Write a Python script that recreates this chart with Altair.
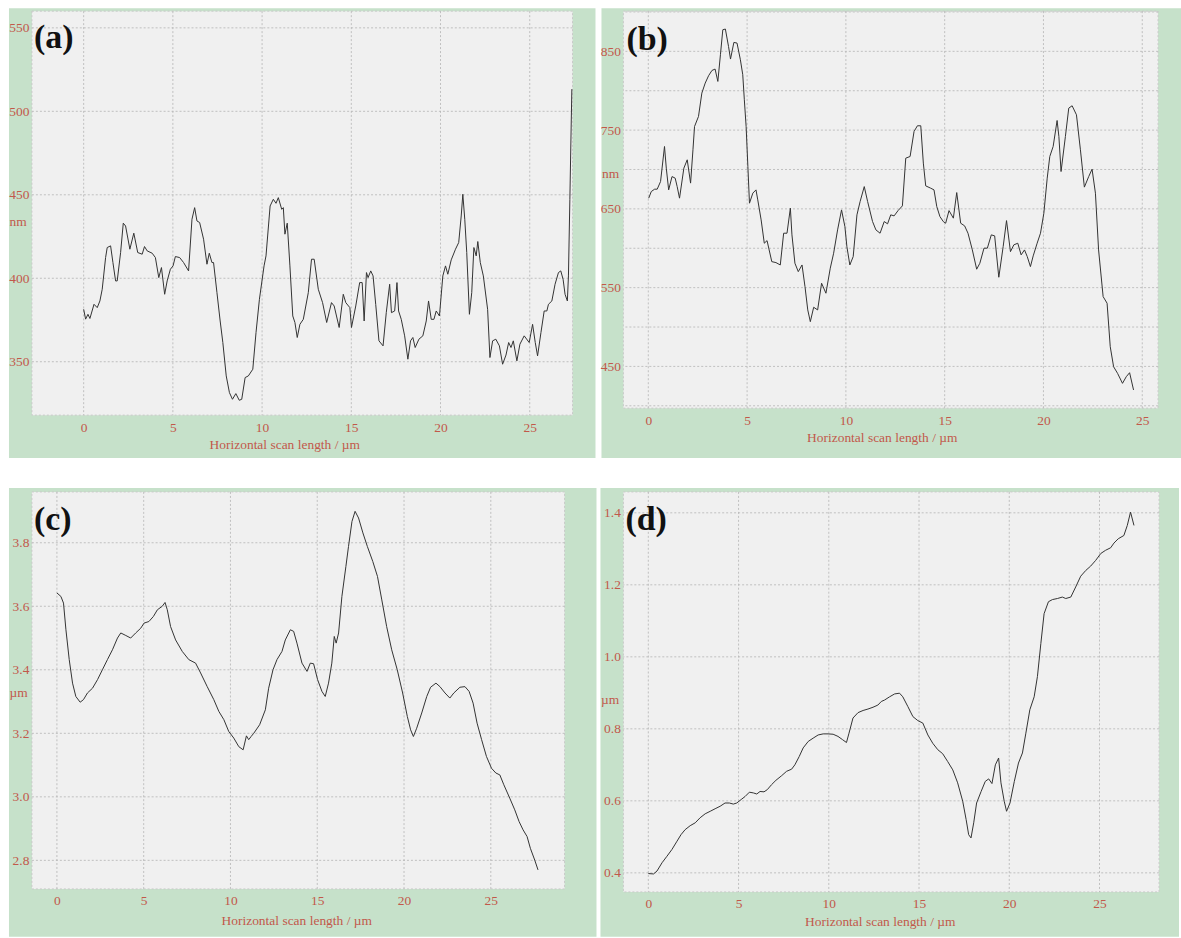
import altair as alt
import pandas as pd

# ---------------- profile data (x in µm) ----------------
a_x = [0.0, 0.11, 0.24, 0.35, 0.58, 0.76, 0.91, 1.04, 1.23, 1.32,
       1.51, 1.64, 1.79, 1.88, 2.07, 2.22, 2.35, 2.59, 2.81, 3.03,
       3.28, 3.41, 3.56, 3.84, 4.02, 4.21, 4.36, 4.54, 4.68, 4.86,
       5.01, 5.14, 5.38, 5.6, 5.88, 6.07, 6.22, 6.35, 6.5, 6.72,
       6.91, 7.04, 7.19, 7.28, 7.47, 7.65, 7.8, 7.99, 8.17, 8.34,
       8.53, 8.72, 8.86, 9.05, 9.23, 9.48, 9.66, 9.85, 10.11, 10.22,
       10.45, 10.63, 10.78, 10.91, 11.1, 11.19, 11.28, 11.41, 11.56, 11.72,
       11.84, 11.97, 12.12, 12.31, 12.59, 12.77, 12.92, 13.15, 13.39, 13.62,
       13.89, 14.04, 14.32, 14.55, 14.69, 14.92, 15.01, 15.25, 15.47, 15.61,
       15.72, 15.85, 15.94, 16.09, 16.22, 16.37, 16.55, 16.78, 16.96, 17.15,
       17.25, 17.43, 17.56, 17.65, 17.8, 17.99, 18.17, 18.32, 18.45, 18.58,
       18.79, 19.01, 19.2, 19.33, 19.48, 19.63, 19.76, 19.94, 20.13, 20.28,
       20.41, 20.6, 20.84, 21.02, 21.16, 21.25, 21.36, 21.47, 21.62, 21.75,
       21.87, 22.0, 22.09, 22.23, 22.4, 22.64, 22.77, 22.92, 23.1, 23.3,
       23.48, 23.67, 23.82, 23.95, 24.08, 24.28, 24.45, 24.69, 24.97, 25.16,
       25.31, 25.44, 25.63, 25.81, 25.96, 26.05, 26.24, 26.42, 26.61, 26.74,
       26.87, 26.98, 27.11, 27.17, 27.25, 27.36]
a_nm = [381.4, 375.5, 378.4, 375.9, 384.4, 382.4, 386.4, 393.4, 412.4, 418.4,
        419.4, 409.4, 398.4, 398.4, 415.4, 433.0, 431.3, 417.4, 427.0, 415.4,
        414.4, 419.0, 416.4, 415.0, 412.4, 400.4, 406.4, 390.4, 398.4, 405.4,
        407.4, 413.0, 412.4, 409.4, 404.4, 435.3, 442.3, 434.3, 433.4, 423.4,
        408.4, 415.0, 409.4, 409.4, 391.4, 374.4, 361.5, 341.5, 331.5, 327.5,
        330.9, 326.9, 327.5, 340.5, 341.5, 345.5, 367.5, 387.4, 407.4, 413.4,
        443.3, 447.3, 444.9, 448.3, 441.3, 442.3, 426.4, 433.0, 407.4, 377.4,
        373.5, 364.5, 372.4, 375.4, 391.4, 411.4, 411.4, 393.4, 385.4, 373.5,
        385.4, 383.4, 370.5, 390.4, 385.4, 382.4, 370.5, 383.4, 397.4, 397.4,
        374.4, 403.4, 400.4, 404.4, 401.4, 384.2, 362.5, 359.5, 379.4, 396.4,
        379.4, 380.4, 397.4, 380.4, 375.4, 365.5, 351.5, 362.5, 364.5, 358.5,
        363.5, 365.5, 374.4, 386.4, 375.4, 375.4, 380.4, 377.4, 401.4, 407.4,
        402.4, 411.0, 417.4, 421.4, 437.3, 450.3, 435.3, 415.4, 378.4, 391.4,
        418.4, 413.4, 422.0, 409.4, 401.4, 381.4, 352.5, 362.5, 363.5, 359.5,
        348.5, 354.0, 361.5, 358.5, 362.5, 350.5, 360.5, 365.5, 361.5, 372.4,
        361.5, 353.5, 367.5, 380.4, 380.4, 384.4, 386.4, 396.4, 403.4, 404.4,
        399.4, 390.4, 386.4, 401.4, 447.3, 513.3]

b_x = [0.02, 0.15, 0.32, 0.45, 0.62, 0.82, 0.91, 1.03, 1.2, 1.36,
       1.46, 1.58, 1.8, 1.97, 2.14, 2.26, 2.34, 2.54, 2.71, 2.88,
       3.05, 3.22, 3.38, 3.52, 3.65, 3.77, 3.9, 4.06, 4.16, 4.33,
       4.49, 4.66, 4.78, 4.86, 4.95, 5.04, 5.12, 5.29, 5.45, 5.54,
       5.71, 5.87, 6.01, 6.25, 6.46, 6.68, 6.85, 7.02, 7.19, 7.27,
       7.42, 7.59, 7.78, 7.93, 8.07, 8.2, 8.37, 8.57, 8.77, 8.99,
       9.21, 9.38, 9.58, 9.78, 9.95, 10.05, 10.2, 10.37, 10.56, 10.72,
       10.93, 11.1, 11.35, 11.52, 11.73, 11.94, 12.11, 12.27, 12.44, 12.64,
       12.86, 13.03, 13.25, 13.45, 13.62, 13.79, 13.92, 14.04, 14.29, 14.46,
       14.6, 14.76, 14.93, 15.05, 15.22, 15.44, 15.61, 15.81, 16.01, 16.18,
       16.4, 16.62, 16.78, 16.99, 17.16, 17.36, 17.53, 17.74, 17.96, 18.13,
       18.33, 18.5, 18.7, 18.87, 19.04, 19.18, 19.34, 19.48, 19.68, 19.85,
       20.02, 20.19, 20.32, 20.49, 20.69, 20.78, 20.89, 21.11, 21.28, 21.45,
       21.67, 21.87, 22.07, 22.29, 22.46, 22.63, 22.79, 23.02, 23.22, 23.38,
       23.55, 23.75, 24.0, 24.19, 24.36, 24.56]
b_nm = [663.6, 672.0, 675.0, 675.0, 684.7, 729.2, 701.7, 674.1, 691.0, 689.0,
        678.3, 663.6, 701.7, 712.3, 682.7, 725.0, 754.6, 767.3, 797.0, 809.7,
        819.0, 825.7, 827.5, 811.8, 845.7, 877.4, 878.3, 856.2, 840.2, 861.3,
        860.5, 839.3, 820.3, 788.5, 754.6, 703.7, 657.2, 670.0, 674.1, 661.4,
        636.0, 606.4, 609.7, 583.0, 581.8, 578.8, 619.1, 619.1, 650.9, 617.0,
        581.0, 570.3, 578.8, 551.3, 521.7, 506.8, 525.1, 521.7, 555.6, 542.9,
        574.7, 593.7, 623.3, 648.7, 627.5, 602.1, 578.8, 589.4, 642.4, 659.3,
        678.3, 659.3, 633.9, 623.3, 619.1, 633.9, 631.0, 642.4, 641.1, 647.8,
        653.8, 714.4, 716.5, 748.3, 755.5, 755.5, 708.1, 679.2, 676.3, 674.1,
        652.9, 640.2, 633.9, 631.8, 647.8, 638.2, 670.7, 631.8, 628.4, 619.1,
        597.9, 573.4, 581.0, 600.1, 600.1, 617.0, 615.7, 563.2, 602.1, 635.1,
        595.7, 604.3, 606.4, 591.6, 597.9, 589.4, 576.7, 590.3, 606.4, 619.1,
        644.5, 689.0, 716.5, 729.2, 762.2, 741.9, 697.4, 741.9, 777.9, 780.9,
        769.4, 725.0, 677.6, 691.0, 700.4, 669.9, 597.9, 538.6, 530.2, 475.0,
        449.6, 441.2, 428.5, 436.9, 442.0, 420.1]

c_x = [0.0, 0.23, 0.38, 0.52, 0.71, 0.9, 1.09, 1.34, 1.53, 1.76,
       2.05, 2.34, 2.62, 2.91, 3.2, 3.49, 3.68, 3.97, 4.25, 4.54,
       4.83, 5.02, 5.3, 5.56, 5.79, 6.07, 6.23, 6.36, 6.55, 6.84,
       7.22, 7.6, 7.99, 8.28, 8.66, 9.04, 9.33, 9.62, 9.9, 10.19,
       10.48, 10.73, 10.92, 11.05, 11.19, 11.34, 11.68, 12.01, 12.2, 12.45,
       12.68, 12.97, 13.16, 13.45, 13.64, 13.83, 14.12, 14.41, 14.6, 14.79,
       15.02, 15.27, 15.46, 15.65, 15.84, 15.98, 16.09, 16.23, 16.42, 16.65,
       16.8, 17.0, 17.18, 17.38, 17.63, 17.89, 18.2, 18.47, 18.72, 19.0,
       19.29, 19.61, 19.92, 20.19, 20.38, 20.54, 20.73, 21.02, 21.31, 21.53,
       21.84, 22.07, 22.36, 22.64, 22.87, 23.22, 23.51, 23.75, 23.98, 24.21,
       24.47, 24.75, 25.04, 25.29, 25.52, 25.75, 26.09, 26.38, 26.63, 26.86,
       27.09, 27.28, 27.53, 27.72]
c_um = [3.642, 3.631, 3.61, 3.526, 3.432, 3.358, 3.316, 3.298, 3.306, 3.327,
        3.342, 3.369, 3.4, 3.432, 3.463, 3.5, 3.516, 3.508, 3.5, 3.516,
        3.531, 3.547, 3.552, 3.568, 3.589, 3.6, 3.612, 3.589, 3.536, 3.494,
        3.458, 3.432, 3.421, 3.39, 3.347, 3.306, 3.269, 3.243, 3.206, 3.185,
        3.158, 3.148, 3.192, 3.18, 3.19, 3.2, 3.227, 3.274, 3.342, 3.4,
        3.432, 3.458, 3.494, 3.526, 3.521, 3.484, 3.421, 3.395, 3.421, 3.419,
        3.369, 3.332, 3.316, 3.358, 3.421, 3.505, 3.484, 3.516, 3.631, 3.725,
        3.788, 3.867, 3.899, 3.878, 3.831, 3.788, 3.741, 3.694, 3.62, 3.536,
        3.463, 3.4, 3.327, 3.253, 3.211, 3.19, 3.216, 3.264, 3.316, 3.345,
        3.358, 3.347, 3.327, 3.311, 3.327, 3.345, 3.347, 3.332, 3.295, 3.232,
        3.18, 3.127, 3.09, 3.075, 3.069, 3.038, 2.996, 2.959, 2.922, 2.896,
        2.875, 2.838, 2.801, 2.77]

d_x = [0.0, 0.29, 0.48, 0.76, 1.03, 1.31, 1.59, 1.81, 2.04, 2.32,
       2.6, 2.87, 3.15, 3.43, 3.7, 3.98, 4.25, 4.49, 4.71, 4.9,
       5.18, 5.36, 5.6, 5.82, 6.01, 6.19, 6.41, 6.59, 6.83, 7.07,
       7.39, 7.66, 7.94, 8.12, 8.36, 8.58, 8.86, 9.13, 9.41, 9.69,
       9.96, 10.24, 10.51, 10.76, 10.98, 11.12, 11.34, 11.62, 11.9, 12.17,
       12.45, 12.72, 12.91, 13.09, 13.37, 13.65, 13.92, 14.1, 14.38, 14.66,
       14.93, 15.21, 15.49, 15.76, 16.04, 16.31, 16.59, 16.87, 17.14, 17.42,
       17.61, 17.75, 17.88, 18.03, 18.19, 18.44, 18.67, 18.86, 19.04, 19.23,
       19.41, 19.54, 19.72, 19.85, 20.04, 20.28, 20.51, 20.73, 20.92, 21.14,
       21.38, 21.56, 21.75, 21.93, 22.17, 22.39, 22.67, 22.94, 23.13, 23.41,
       23.68, 23.96, 24.24, 24.51, 24.79, 25.07, 25.34, 25.62, 25.8, 26.04,
       26.35, 26.54, 26.72, 26.91]
d_um = [0.398, 0.397, 0.405, 0.428, 0.446, 0.465, 0.488, 0.506, 0.52, 0.531,
        0.539, 0.553, 0.564, 0.571, 0.578, 0.585, 0.594, 0.594, 0.591, 0.594,
        0.605, 0.612, 0.624, 0.622, 0.619, 0.626, 0.625, 0.631, 0.645, 0.657,
        0.67, 0.682, 0.688, 0.7, 0.723, 0.747, 0.765, 0.774, 0.783, 0.786,
        0.786, 0.785, 0.779, 0.77, 0.762, 0.788, 0.83, 0.845, 0.851, 0.855,
        0.86, 0.866, 0.876, 0.88, 0.889, 0.897, 0.899, 0.889, 0.862, 0.834,
        0.823, 0.816, 0.783, 0.76, 0.742, 0.731, 0.709, 0.686, 0.65, 0.599,
        0.548, 0.506, 0.497, 0.539, 0.594, 0.626, 0.654, 0.661, 0.648, 0.7,
        0.719, 0.65, 0.599, 0.571, 0.594, 0.654, 0.705, 0.733, 0.788, 0.853,
        0.889, 0.945, 1.037, 1.12, 1.153, 1.159, 1.162, 1.166, 1.162, 1.166,
        1.194, 1.224, 1.24, 1.252, 1.268, 1.287, 1.296, 1.303, 1.316, 1.328,
        1.337, 1.365, 1.402, 1.365]

# ---------------- tick / grid values ----------------
x_ticks = [0, 5, 10, 15, 20, 25]
a_yticks = [350, 400, 450, 500, 550]
a_ygrid = [350, 400, 450, 500, 550]
b_yticks = [450, 550, 650, 750, 850]
b_ygrid = [400, 450, 500, 550, 600, 650, 700, 750, 800, 850, 900]
c_yticks = [2.8, 3.0, 3.2, 3.4, 3.6, 3.8]
d_yticks = [0.4, 0.6, 0.8, 1.0, 1.2, 1.4]

X_TITLE = "Horizontal scan length / µm"

GREEN = "#c6e1ca"
PLOT_BG = "#f0f0f0"
RED = "#c2584a"
GRID = "#b4b4b4"
SERIF = "Liberation Serif"


def panel(xs, ys, tag, unit, xdom, ydom, w, h, ygrid, yticks, yfmt,
          frame, ytitle_xy, xtitle_xy, tag_xy):
    line_df = pd.DataFrame({"x": xs, "y": ys})
    xscale = alt.Scale(domain=xdom, nice=False, zero=False)
    yscale = alt.Scale(domain=ydom, nice=False, zero=False)
    one = alt.Data(values=[{}])

    # axes are drawn above the frame rectangles (zindex=1)
    x_axis = alt.Axis(
        values=x_ticks, grid=False, domain=False, ticks=False, zindex=1,
        labelColor=RED, labelFont=SERIF, labelFontSize=13.5,
        labelPadding=5, labelFlush=False,
        title=X_TITLE, titleColor=RED, titleFont=SERIF,
        titleFontSize=13.5, titleFontWeight="normal",
        titleX=xtitle_xy[0], titleY=xtitle_xy[1],
        titleAlign="center", titleBaseline="alphabetic")
    y_axis = alt.Axis(
        values=yticks, format=yfmt, grid=False, domain=False, ticks=False,
        zindex=1,
        labelColor=RED, labelFont=SERIF, labelFontSize=13.5,
        labelPadding=3, labelFlush=False,
        title=unit, titleColor=RED, titleFont=SERIF, titleFontSize=13.5,
        titleFontWeight="normal", titleAngle=0,
        titleX=ytitle_xy[0], titleY=ytitle_xy[1],
        titleAlign="left", titleBaseline="middle")

    # green surround and grey plotting field
    fl, fr, ft, fb = frame
    surround = alt.Chart(one).mark_rect(color=GREEN).encode(
        x=alt.value(fl), x2=alt.value(w + fr),
        y=alt.value(ft), y2=alt.value(h + fb))
    field = alt.Chart(one).mark_rect(
        fill=PLOT_BG, stroke="#c9c9c9", strokeDash=[2, 2], strokeWidth=1
    ).encode(x=alt.value(0), x2=alt.value(w), y=alt.value(0), y2=alt.value(h))

    vgrid = alt.Chart(pd.DataFrame({"x": x_ticks})).mark_rule(
        color=GRID, strokeDash=[2, 2], strokeWidth=0.8
    ).encode(x=alt.X("x:Q", scale=xscale, axis=x_axis))
    hgrid = alt.Chart(pd.DataFrame({"y": ygrid})).mark_rule(
        color=GRID, strokeDash=[2, 2], strokeWidth=0.8
    ).encode(y=alt.Y("y:Q", scale=yscale, axis=y_axis))

    profile = alt.Chart(line_df).mark_line(
        color="#333333", strokeWidth=1, interpolate="linear"
    ).encode(
        x=alt.X("x:Q", scale=xscale, axis=x_axis),
        y=alt.Y("y:Q", scale=yscale, axis=y_axis),
        order="x:Q",
    )

    label = alt.Chart(one).mark_text(
        text=tag, font=SERIF, fontSize=34, fontWeight="bold",
        color="#111111", align="left", baseline="middle"
    ).encode(x=alt.value(tag_xy[0]), y=alt.value(tag_xy[1]))

    return alt.layer(surround, field, vgrid, hgrid, profile, label).properties(
        width=w, height=h)


pa = panel(a_x, a_nm, "(a)", "nm", [-2.9, 27.4], [318, 560], 542, 405,
           a_ygrid, a_yticks, "d", (-23, 23, -3, 43), (-23, 211), (253, 33), (2, 27))
pb = panel(b_x, b_nm, "(b)", "nm", [-1.26, 25.8], [397, 901], 536, 398,
           b_ygrid, b_yticks, "d", (-22, 23, -3, 50), (-22, 163), (259, 33), (3, 29))
pc = panel(c_x, c_um, "(c)", "µm", [-1.44, 29.25], [2.71, 3.96], 534, 398,
           c_yticks, c_yticks, ".1f", (-23, 32, -4, 48), (-23, 201), (265, 36), (2, 28))
pd_ = panel(d_x, d_um, "(d)", "µm", [-1.38, 28.3], [0.347, 1.458], 537, 401,
            d_yticks, d_yticks, ".1f", (-23, 20, -4, 45), (-23, 208), (257, 34), (2, 28))

top = alt.hconcat(pa, pb, spacing=4)
bottom = alt.hconcat(pc, pd_, spacing=4)

chart = alt.vconcat(top, bottom, spacing=30).properties(
    padding={"left": 8, "top": 7, "right": 0, "bottom": 0},
    background="white",
).configure_view(stroke=None)

chart.save("out.html", embed_options={"renderer": "svg", "actions": False})
